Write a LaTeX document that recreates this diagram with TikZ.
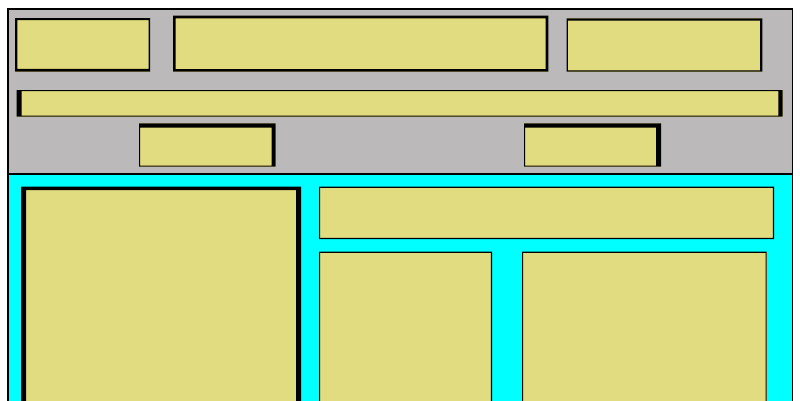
\documentclass[tikz,border=0pt]{standalone}
\usetikzlibrary{fit}
\definecolor{yel}{RGB}{226,220,128}
\definecolor{panelgray}{RGB}{187,185,185}
\definecolor{panelcyan}{RGB}{0,255,255}
\newcommand\panelbox[9]{%
  \fill[yel] (#2,#3) rectangle (#4,#5);
  \fill[black,even odd rule] (#2,#3) rectangle (#4,#5) ({#2+#6},{#3+#7}) rectangle ({#4-#8},{#5-#9});
  \node[inner sep=0pt, fit={(#2,#3) (#4,#5)}] (#1) {};
}
\begin{document}
\begin{tikzpicture}[x=1pt,y=-1pt]
\useasboundingbox (0,0) rectangle (800,400);
\clip (0,0) rectangle (800,400);
% panels
\fill[panelgray] (8,9) rectangle (792,173);
\fill[panelcyan] (8,173) rectangle (792,420);
\node[inner sep=0pt, fit={(8,9) (792,173)}] (top) {};
\node[inner sep=0pt, fit={(8,173) (792,420)}] (bottom) {};
% top boxes
\panelbox{b1}{15}{18}{150}{71.5}{2.3}{2}{1.5}{2.7}
\panelbox{b2}{173}{15.7}{548.3}{71.7}{2.7}{2.7}{2.7}{2.7}
\panelbox{b3}{566.7}{18.3}{762.3}{71.7}{1.1}{2.3}{2.3}{1.3}
\panelbox{b4}{16.7}{90}{782.7}{116.7}{5}{1.1}{4.3}{1.1}
\panelbox{b5}{139}{123.3}{275.7}{166.7}{1.1}{4.3}{4}{1.1}
\panelbox{b6}{524}{123.3}{661}{166.7}{1.1}{4.3}{5}{1.1}
% bottom boxes
\panelbox{b7}{21}{186.7}{301}{420}{5}{3.3}{5}{1.1}
\panelbox{b8}{319}{186.7}{774}{239}{1.1}{1.1}{1.1}{1.1}
\panelbox{b9}{319}{251.7}{492}{420}{1.1}{1.1}{1.1}{1.1}
\panelbox{b10}{522}{251.7}{766.7}{420}{1.1}{1.1}{1.1}{1.1}
% divider and outer frame
\fill[black] (8,172.7) rectangle (792,174.7);
\draw[line width=1.3pt] (8,9) rectangle (792.3,420);
\end{tikzpicture}
\end{document}
